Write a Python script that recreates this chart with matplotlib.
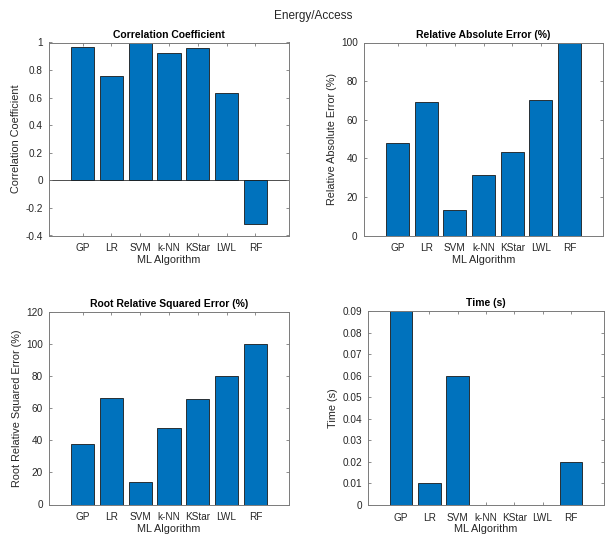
import matplotlib.pyplot as plt
import numpy as np

plt.rcParams['font.family'] = ['Liberation Sans', 'DejaVu Sans']

algorithms = ['GP', 'LR', 'SVM', 'k-NN', 'KStar', 'LWL', 'RF']
corr_coef = [0.964, 0.756, 0.995, 0.925, 0.961, 0.637, -0.318]
rel_abs_err = [47.8, 69.4, 13.3, 31.1, 43.3, 70.3, 100.0]
root_rel_sq_err = [37.7, 66.2, 13.8, 47.4, 65.6, 80.4, 100.0]
time_s = [0.09, 0.01, 0.06, 0.0, 0.0, 0.0, 0.02]

W, H = 610, 534
fig = plt.figure(figsize=(W / 100, H / 100), dpi=100)

def px_axes(x0, x1, y0, y1):
    # pixel box -> figure fraction
    return fig.add_axes([x0 / W, 1 - y1 / H, (x1 - x0) / W, (y1 - y0) / H])

bar_col = '#0072BD'
ax_col = '#7a7a7a'
txt_col = '#262626'

panels = [
    (px_axes(49, 289, 42.5, 235.5), corr_coef, 'Correlation Coefficient',
     'Correlation Coefficient', (-0.4, 1), np.arange(-0.4, 1.01, 0.2)),
    (px_axes(364, 603, 42.5, 235.5), rel_abs_err, 'Relative Absolute Error (%)',
     'Relative Absolute Error (%)', (0, 100), np.arange(0, 101, 20)),
    (px_axes(49, 289, 312, 504.5), root_rel_sq_err, 'Root Relative Squared Error (%)',
     'Root Relative Squared Error (%)', (0, 120), np.arange(0, 121, 20)),
    (px_axes(368, 604, 311, 505), time_s, 'Time (s)',
     'Time (s)', (0, 0.09), np.arange(0, 0.0901, 0.01)),
]

x = np.arange(1, len(algorithms) + 1)
for ax, vals, title, ylab, ylim, yt in panels:
    ax.bar(x, vals, width=0.8, color=bar_col, edgecolor='#1a1a1a', linewidth=0.6, zorder=2)
    if ylim[0] < 0:
        ax.axhline(0, color='#4d4d4d', linewidth=0.7, zorder=1)
    ax.set_xlim(-0.17, 8.17)
    ax.set_ylim(*ylim)
    ax.set_xticks(x)
    ax.set_xticklabels(algorithms)
    ax.set_yticks(yt)
    if title == 'Time (s)':
        ax.set_yticklabels(['0'] + ['%.2f' % v for v in yt[1:]])
    elif ylim[0] < 0:
        ax.set_yticklabels(['%g' % round(v, 1) for v in yt])
    ax.tick_params(direction='in', length=2.5, width=0.6, colors=ax_col,
                   labelcolor=txt_col, labelsize=7.2, top=True, right=True)
    ax.tick_params(axis='x', pad=5.5)
    ax.tick_params(axis='y', pad=4.5)
    for s in ax.spines.values():
        s.set_color(ax_col)
        s.set_linewidth(0.7)
    ax.set_title(title, fontsize=7.5, fontweight='bold', color='black', pad=3.5)
    ax.set_xlabel('ML Algorithm', fontsize=7.8, color=txt_col, labelpad=1)
    ax.set_ylabel(ylab, fontsize=7.8, color=txt_col, labelpad=3)

fig.text(0.513, 0.970, 'Energy/Access', ha='center', va='center', fontsize=8.5, color=txt_col)

fig.savefig('out.png', dpi=100)
